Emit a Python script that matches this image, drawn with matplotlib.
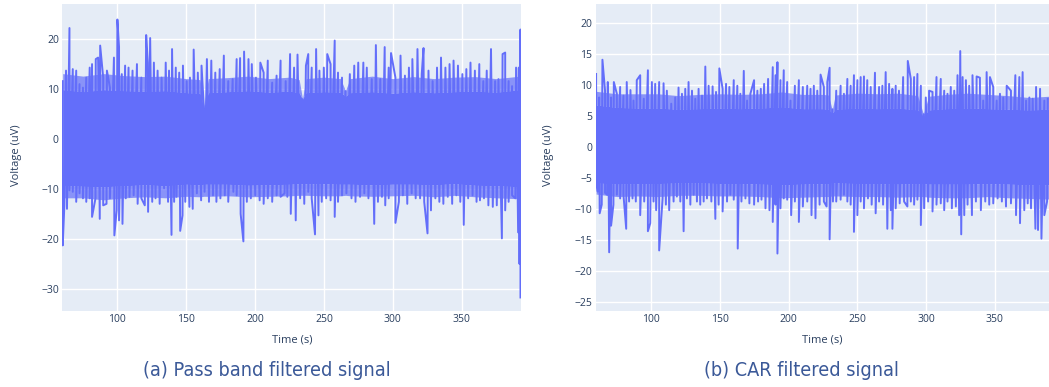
import matplotlib
matplotlib.use("Agg")
import matplotlib.pyplot as plt
import numpy as np

LINE_COLOR = '#636EFA'
BG_COLOR = '#E5ECF6'
FONT_COLOR = '#2a3f5f'
CAPTION_COLOR = '#3b5998'

# (a) pass band filtered signal -- spike tips (s, uV)
t_up_a = [60.3, 62.7, 65.2, 67.6, 70.1, 72.5, 75.0, 77.4, 79.9, 81.6, 84.3, 86.0, 87.5, 89.7,
          92.4, 94.6, 97.5, 100.0, 101.2, 103.2, 105.6, 108.1, 111.0, 114.2, 117.4, 120.9,
          122.1, 123.8, 126.5, 129.2, 132.1, 135.1, 137.5, 139.7, 142.4, 144.9, 147.6, 150.3,
          152.7, 155.4, 158.4, 161.1, 162.8, 165.0, 168.2, 171.1, 174.3, 177.3, 180.5, 183.7,
          186.6, 189.1, 192.0, 195.2, 197.6, 200.6, 203.8, 206.2, 209.2, 212.4, 215.6, 218.5,
          222.2, 225.4, 228.3, 230.8, 234.4, 236.9, 238.6, 241.1, 244.3, 246.7, 249.9, 252.4,
          254.8, 257.8, 260.2, 263.1, 265.6, 268.8, 272.0, 274.9, 278.6, 281.1, 284.7, 287.7,
          290.9, 294.1, 297.0, 298.7, 301.9, 305.6, 308.8, 311.7, 314.2, 317.9, 321.0, 322.3,
          325.9, 328.9, 332.1, 335.0, 338.2, 341.2, 344.1, 347.3, 350.5, 353.4, 356.4, 359.6,
          362.8, 365.7, 368.2, 371.3, 374.3, 376.7, 379.7, 381.6, 384.1, 386.6, 389.5, 391.5,
          392.7]
v_up_a = [11.5, 13.6, 22.1, 13.9, 13.6, 10.9, 10.2, 12.2, 14.2, 14.9, 15.9, 16.2, 18.6, 12.2,
          13.6, 10.2, 16.2, 23.8, 18.3, 12.9, 14.6, 14.2, 13.6, 14.9, 12.2, 20.7,
          15.2, 20.1, 15.2, 13.6, 12.2, 15.2, 13.6, 17.9, 14.2, 13.2, 14.6, 11.5,
          12.2, 17.8, 13.2, 14.6, 6.2, 15.9, 15.6, 13.2, 13.9, 16.6, 11.5, 11.9,
          15.9, 16.1, 17.4, 15.9, 14.9, 12.2, 15.2, 13.2, 15.6, 11.2, 12.6, 15.6,
          11.5, 16.9, 14.2, 16.8, 7.9, 14.6, 16.9, 14.2, 17.9, 13.6, 14.2, 16.9,
          14.9, 19.6, 13.2, 12.2, 9.5, 12.9, 14.6, 15.2, 15.2, 14.2, 11.9, 18.7,
          11.9, 18.3, 14.2, 17.1, 12.2, 16.6, 12.6, 14.2, 15.9, 17.9, 12.9, 18.1,
          13.6, 11.5, 14.2, 16.2, 14.2, 14.9, 15.6, 14.6, 12.9, 13.9, 15.2, 13.6,
          14.9, 11.5, 13.6, 17.9, 11.5, 11.9, 16.9, 17.2, 11.5, 10.5, 14.2, 14.2,
          21.8]
t_low_a = [60.3, 61.5, 63.4, 65.2, 67.6, 70.1, 72.5, 75.0, 77.4, 79.9, 81.6, 84.1, 87.2, 89.7,
           92.1, 94.6, 97.8, 99.5, 101.2, 103.7, 106.1, 108.8, 111.8, 114.7, 117.4, 119.9,
           122.3, 125.3, 127.7, 130.7, 133.9, 136.8, 139.3, 141.2, 142.9, 145.6, 147.3, 149.3,
           152.3, 154.7, 157.7, 160.8, 163.3, 166.5, 169.4, 171.9, 174.8, 178.0, 180.5, 184.2,
           186.6, 189.5, 191.5, 194.0, 196.9, 200.1, 203.3, 206.2, 209.2, 212.4, 215.6, 218.5,
           221.4, 223.4, 225.9, 229.5, 232.7, 235.7, 238.6, 241.1, 243.5, 246.0, 248.4, 251.6,
           254.8, 257.8, 260.2, 263.1, 266.3, 270.0, 272.9, 276.2, 279.3, 282.3, 286.5, 289.2,
           292.1, 294.5, 297.0, 301.9, 304.4, 307.3, 310.5, 313.7, 316.6, 319.8, 322.8, 325.2,
           327.7, 330.9, 333.8, 336.7, 339.9, 343.1, 346.1, 349.0, 351.5, 354.7, 357.9, 360.8,
           363.3, 366.2, 369.4, 372.6, 375.5, 379.2, 381.6, 384.1, 386.6, 389.0, 391.0, 392.0,
           392.7]
v_low_a = [-21.3, -13.3, -14.0, -10.3, -10.6, -12.6, -10.9, -11.9, -12.6, -11.9, -15.6, -11.9, -16.0, -13.3,
           -13.0, -11.9, -19.3, -14.3, -16.3, -17.0, -11.9, -11.6, -11.3, -13.0, -11.9, -13.3,
           -14.6, -12.6, -11.9, -13.0, -9.9, -12.6, -19.2, -12.6, -11.6, -18.4, -15.3, -12.6,
           -13.6, -14.0, -10.9, -12.3, -10.6, -12.6, -11.3, -12.6, -11.9, -11.3, -12.6, -10.6,
           -11.3, -15.0, -20.5, -12.6, -11.9, -11.3, -12.3, -13.0, -11.9, -12.6, -11.3, -11.6,
           -10.9, -11.6, -15.0, -16.3, -11.9, -13.0, -10.6, -11.9, -19.1, -15.3, -12.6, -11.9,
           -12.3, -15.6, -12.6, -11.3, -10.9, -11.9, -12.6, -11.6, -10.9, -11.9, -17.0, -12.6,
           -11.6, -13.3, -11.9, -16.8, -12.6, -11.3, -13.0, -10.9, -11.9, -11.9, -12.6, -18.9,
           -14.3, -11.9, -12.6, -13.0, -11.6, -13.0, -11.3, -12.6, -17.2, -11.9, -11.3, -12.6,
           -12.3, -11.9, -13.3, -13.6, -13.3, -19.9, -14.3, -12.6, -11.3, -11.9, -18.7, -25.0,
           -31.7]
# solid centre of the trace and the edge of the dense spike fringe, read with the notches
t_core_a = [60.3, 75, 90, 105, 120, 135, 150, 160, 162.8, 166, 180, 195, 210, 225, 232,
            234.4, 237, 250, 262, 265.6, 269, 285, 300, 315, 330, 345, 360, 375, 392.7]
core_top_a = [9.8, 9.4, 9.8, 9.6, 9.5, 9.6, 9.2, 9.1, 6.2, 9.2, 9.4, 9.6, 9.3, 9.5, 9.2,
              7.9, 9.2, 9.4, 9.3, 8.5, 9.2, 9.4, 9.1, 9.4, 9.2, 9.4, 9.5, 9.3, 9.8]
fringe_top_a = [13.0, 12.5, 13.0, 12.6, 12.4, 12.5, 12.0, 11.8, 6.5, 12.0, 12.2, 12.5, 12.0,
                12.3, 11.8, 8.0, 12.0, 12.3, 12.0, 9.6, 12.0, 12.5, 12.0, 12.4, 12.0, 12.3,
                12.4, 12.0, 12.5]
core_bot_a = [-9.3, -9.5, -9.6, -9.4, -9.2, -9.4, -9.1, -9.2, -9.1, -9.1, -9.1, -9.3, -9.2,
              -9.1, -9.0, -9.0, -9.0, -9.0, -9.1, -9.1, -9.1, -9.2, -9.1, -9.1, -9.2, -9.0,
              -9.3, -9.4, -9.6]
fringe_bot_a = [-11.8, -11.8, -12.2, -11.8, -11.6, -11.8, -11.5, -11.6, -11.5, -11.5, -11.4,
                -11.6, -11.5, -11.4, -11.3, -11.3, -11.3, -11.4, -11.4, -11.3, -11.4, -11.5,
                -11.4, -11.3, -11.6, -11.3, -11.6, -11.8, -12.0]

# (b) CAR filtered signal
t_up_b = [59.9, 62.1, 64.5, 66.4, 68.4, 70.8, 72.8, 75.0, 77.4, 79.8, 82.2, 84.9, 87.1, 89.5,
          92.0, 94.6, 97.6, 100.5, 102.9, 105.8, 109.0, 111.4, 114.6, 117.5, 119.9, 122.4,
          124.8, 127.2, 129.7, 132.1, 134.5, 137.0, 139.4, 141.8, 144.7, 147.2, 149.6, 152.0,
          154.5, 156.9, 160.1, 162.7, 164.9, 167.4, 169.8, 172.2, 174.9, 177.3, 179.8, 182.2,
          185.1, 188.5, 190.5, 191.9, 194.1, 196.5, 199.0, 201.4, 204.6, 207.5, 210.4, 213.6,
          216.0, 218.4, 220.9, 223.3, 225.7, 228.2, 229.9, 231.8, 234.7, 237.9, 240.3, 242.8,
          245.2, 247.6, 250.1, 252.5, 254.9, 257.3, 259.8, 262.9, 265.9, 268.3, 270.7, 273.2,
          275.6, 278.0, 280.4, 283.4, 286.8, 289.0, 291.4, 293.8, 296.3, 298.2, 299.9, 302.3,
          304.8, 307.7, 310.8, 313.3, 315.7, 318.1, 320.6, 323.0, 325.0, 326.7, 329.1, 331.5,
          333.9, 336.9, 339.3, 341.7, 344.2, 346.6, 349.0, 351.5, 353.9, 356.3, 358.8, 361.9,
          365.1, 368.0, 370.4, 372.9, 375.3, 377.7, 380.2, 383.1, 386.2, 388.7]
v_up_b = [11.8, 8.0, 14.1, 9.1, 10.5, 8.0, 10.5, 8.6, 9.7, 8.3, 10.5, 9.2, 7.5, 10.8,
          11.6, 7.8, 12.4, 10.5, 10.2, 10.5, 10.3, 9.1, 7.0, 8.0, 9.6, 8.6,
          9.4, 10.5, 9.1, 7.8, 9.4, 8.3, 13.0, 9.9, 9.8, 8.9, 12.7, 9.4,
          10.2, 9.7, 10.8, 9.9, 8.6, 12.3, 7.5, 8.6, 10.8, 9.1, 9.4, 10.2,
          11.0, 12.9, 11.6, 13.7, 10.8, 12.4, 10.5, 7.5, 9.9, 10.8, 9.7, 9.9,
          9.4, 9.9, 9.1, 11.7, 9.7, 10.5, 12.8, 6.1, 9.1, 9.9, 8.6, 11.0,
          9.9, 11.6, 10.8, 11.3, 11.4, 10.8, 9.7, 12.0, 9.7, 9.9, 12.1, 10.2,
          9.4, 9.9, 9.1, 11.3, 13.9, 11.0, 11.3, 11.8, 9.9, 5.3, 8.0, 9.1,
          8.9, 11.3, 11.0, 9.1, 8.6, 9.7, 9.1, 11.6, 15.5, 11.3, 10.8, 9.9,
          11.6, 11.4, 11.2, 7.5, 12.1, 11.3, 9.7, 7.5, 8.6, 8.0, 9.9, 9.1,
          11.6, 11.3, 12.1, 7.5, 8.0, 7.8, 9.7, 9.4, 7.5, 7.8]
t_low_b = [59.9, 61.1, 62.5, 64.0, 66.4, 67.9, 69.4, 70.8, 72.5, 75.0, 77.4, 79.8, 81.8, 83.9,
           86.4, 88.8, 92.0, 94.9, 97.6, 99.3, 101.7, 103.6, 105.8, 108.3, 110.7, 113.1,
           116.3, 118.7, 121.2, 123.6, 126.0, 128.5, 130.9, 133.3, 135.7, 138.2, 140.6, 143.8,
           146.7, 149.1, 152.0, 155.2, 157.6, 160.1, 163.0, 165.7, 168.6, 171.5, 174.9, 177.8,
           180.3, 183.2, 186.1, 188.5, 190.5, 191.9, 194.1, 196.5, 199.0, 201.9, 204.6, 207.5,
           210.4, 213.6, 216.7, 219.6, 222.6, 225.7, 227.7, 229.9, 232.3, 234.7, 237.9, 240.3,
           242.8, 245.2, 247.6, 250.1, 252.5, 254.9, 257.8, 260.5, 263.4, 265.9, 268.8, 271.9,
           274.4, 275.6, 278.0, 280.9, 284.1, 286.5, 289.0, 291.4, 293.8, 296.3, 298.7, 301.6,
           304.8, 307.7, 310.8, 313.3, 315.7, 318.9, 321.8, 324.2, 325.7, 327.9, 330.3, 333.5,
           336.4, 340.0, 343.2, 346.1, 349.0, 352.2, 355.3, 358.3, 361.9, 365.6, 368.5, 371.6,
           374.1, 376.5, 379.7, 381.6, 384.1, 386.2, 388.2]
v_low_b = [-5.5, -7.2, -10.7, -9.3, -7.4, -7.7, -17.0, -12.7, -9.3, -7.7, -8.3, -7.7, -13.2, -8.8,
           -8.3, -8.8, -11.0, -8.8, -13.6, -12.3, -8.8, -10.2, -16.7, -8.3, -9.3, -10.2,
           -8.8, -8.0, -8.8, -13.6, -8.3, -9.3, -7.7, -8.8, -9.3, -8.8, -8.3, -8.8,
           -11.6, -9.3, -10.4, -8.8, -7.7, -8.5, -16.4, -8.8, -8.3, -9.1, -9.3, -8.8,
           -8.5, -9.9, -10.2, -12.1, -9.3, -17.2, -9.9, -8.3, -8.5, -11.0, -8.8, -12.1,
           -9.6, -8.8, -11.0, -11.5, -9.3, -8.8, -9.6, -14.9, -8.8, -8.8, -8.5, -7.7,
           -8.8, -9.3, -13.7, -11.0, -8.8, -9.9, -8.3, -9.3, -10.7, -8.8, -9.3, -13.2,
           -10.2, -13.2, -9.9, -9.1, -8.8, -9.6, -8.8, -9.3, -8.5, -12.6, -9.9, -8.8,
           -10.4, -9.3, -9.1, -10.2, -8.8, -9.9, -9.6, -11.0, -14.1, -11.0, -9.3, -11.0,
           -8.8, -10.2, -8.8, -9.3, -9.1, -8.3, -8.8, -9.6, -9.1, -11.0, -12.3, -10.2,
           -9.1, -9.9, -13.2, -13.4, -14.8, -11.0, -8.8]
t_core_b = [59.9, 75, 90, 105, 120, 135, 150, 165, 180, 195, 210, 225, 229, 231.8, 234,
            250, 265, 280, 294, 298.2, 302, 315, 330, 345, 360, 375, 389.4]
core_top_b = [6.8, 6.4, 6.3, 6.3, 6.1, 6.2, 6.3, 6.2, 6.3, 6.5, 6.2, 6.2, 6.1, 5.5, 6.1,
              6.3, 6.2, 6.3, 6.0, 5.0, 6.0, 6.2, 6.3, 6.2, 6.1, 6.0, 6.1]
fringe_top_b = [9.0, 8.6, 8.6, 8.6, 8.3, 8.5, 8.6, 8.5, 8.6, 8.9, 8.5, 8.5, 8.4, 6.0, 8.4,
                8.7, 8.6, 8.7, 8.3, 5.3, 8.2, 8.5, 8.7, 8.5, 8.3, 8.0, 8.2]
core_bot_b = [-5.8, -6.0, -5.9, -5.9, -5.8, -5.8, -5.9, -5.9, -6.0, -6.1, -6.0, -5.9, -5.9,
              -5.8, -5.8, -5.9, -5.9, -6.0, -5.9, -5.9, -6.0, -6.0, -6.0, -5.9, -6.0, -6.1,
              -6.1]
fringe_bot_b = [-7.6, -8.0, -7.9, -8.0, -7.8, -7.8, -7.9, -7.9, -8.0, -8.2, -8.1, -8.0, -8.0,
                -7.9, -7.9, -8.0, -8.0, -8.1, -8.0, -8.0, -8.1, -8.2, -8.2, -8.0, -8.2, -8.3,
                -8.4]

xticks = [100, 150, 200, 250, 300, 350]
yticks_a = [-30, -20, -10, 0, 10, 20]
yticks_b = [-25, -20, -15, -10, -5, 0, 5, 10, 15, 20]

plt.rcParams['font.family'] = ['Open Sans', 'DejaVu Sans']


def draw_signal(ax, t_up, v_up, t_low, v_low, t_core, core_top, core_bot,
                fringe_top, fringe_bot, xlim, ylim, yticks):
    ax.set_facecolor(BG_COLOR)
    # dense fringe of small spikes shows up as a mostly covered band
    ax.fill_between(t_core, core_top, fringe_top, color=LINE_COLOR, alpha=0.7, lw=0, zorder=2)
    ax.fill_between(t_core, fringe_bot, core_bot, color=LINE_COLOR, alpha=0.7, lw=0, zorder=2)
    ax.fill_between(t_core, core_bot, core_top, color=LINE_COLOR, lw=0, zorder=2)
    t = np.concatenate([t_up, t_low])
    v = np.concatenate([v_up, v_low])
    order = np.argsort(t, kind='stable')
    ax.plot(t[order], v[order], color=LINE_COLOR, lw=1.4, zorder=3)
    ax.set_xlim(*xlim)
    ax.set_ylim(*ylim)
    ax.set_xticks(xticks)
    ax.set_yticks(yticks)
    ax.set_yticklabels([str(y).replace('-', '\u2212') for y in yticks])
    ax.grid(True, color='white', lw=1.0, zorder=1)
    ax.set_axisbelow(True)
    for s in ax.spines.values():
        s.set_visible(False)
    ax.tick_params(length=0, labelsize=7.5, labelcolor=FONT_COLOR, pad=2.5)


W, H = 1049, 387
fig = plt.figure(figsize=(W / 100, H / 100), dpi=100)
ax_a = fig.add_axes([62.3 / W, 1 - 310.5 / H, 459.0 / W, 306.5 / H])
ax_b = fig.add_axes([595.7 / W, 1 - 310.5 / H, (W - 595.7) / W, 306.5 / H])

draw_signal(ax_a, t_up_a, v_up_a, t_low_a, v_low_a, t_core_a, core_top_a, core_bot_a,
            fringe_top_a, fringe_bot_a, (60.0, 393.3), (-34.3, 26.9), yticks_a)
draw_signal(ax_b, t_up_b, v_up_b, t_low_b, v_low_b, t_core_b, core_top_b, core_bot_b,
            fringe_top_b, fringe_bot_b, (59.6, 389.6), (-26.4, 23.1), yticks_b)

# axis titles
for xc, yc in [(16, 155), (549, 155)]:
    fig.text(xc / W, 1 - yc / H, 'Voltage (uV)', rotation=90, ha='center', va='center',
             fontsize=8, color=FONT_COLOR)
for xc in [291.8, 822]:
    fig.text(xc / W, 1 - 340.5 / H, 'Time (s)', ha='center', va='center',
             fontsize=8, color=FONT_COLOR)

# sub-captions (narrow face)
cap_font = ['Liberation Sans Narrow', 'DejaVu Sans']
fig.text(266.5 / W, 1 - 370 / H, '(a) Pass band filtered signal', ha='center', va='center',
         fontsize=14.2, color=CAPTION_COLOR, family=cap_font, stretch='condensed')
fig.text(801.5 / W, 1 - 370 / H, '(b) CAR filtered signal', ha='center', va='center',
         fontsize=14.2, color=CAPTION_COLOR, family=cap_font, stretch='condensed')

fig.savefig('out.png', dpi=100)
